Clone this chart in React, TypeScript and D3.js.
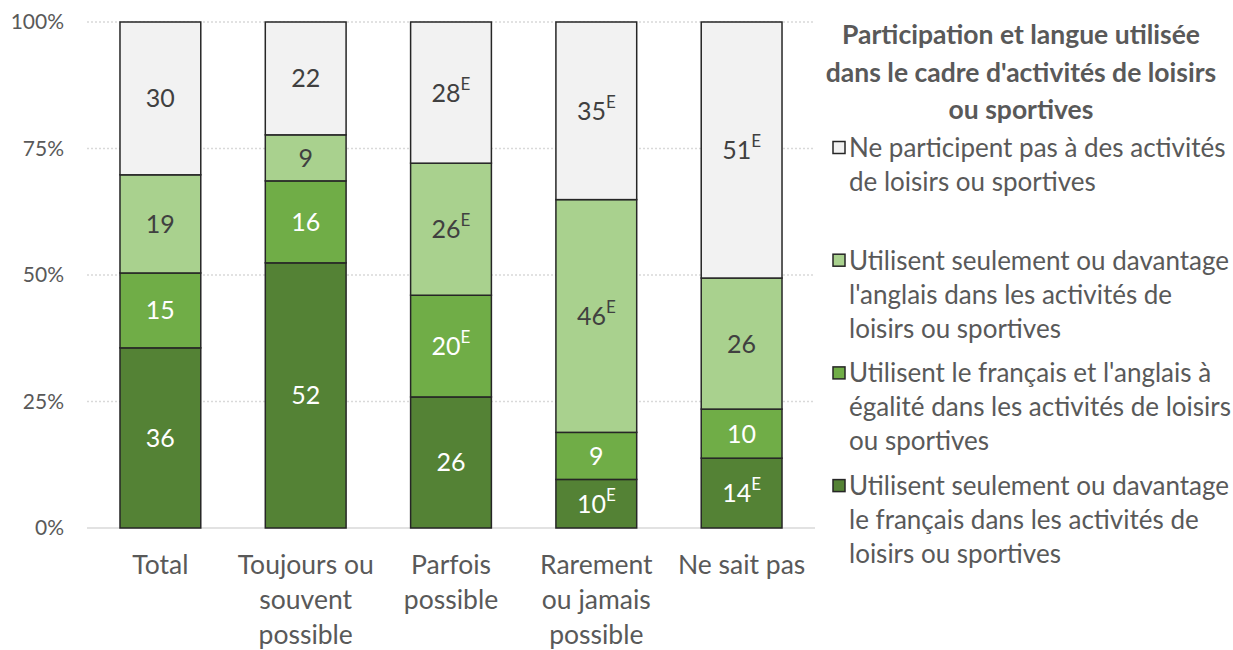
import React from "react";
import * as d3 from "d3";

const categories = ["Total", "Toujours ou souvent possible", "Parfois possible", "Rarement ou jamais possible", "Ne sait pas"];
const categoryLines = [["Total"], ["Toujours ou", "souvent", "possible"], ["Parfois", "possible"], ["Rarement", "ou jamais", "possible"], ["Ne sait pas"]];

const frValues = [35.6, 52.4, 25.9, 9.6, 13.8];
const bothValues = [14.8, 16.2, 20.1, 9.3, 9.7];
const enValues = [19.4, 9.1, 26.1, 46.0, 25.9];
const noneValues = [30.2, 22.3, 27.9, 35.1, 50.6];

const frE = [false, false, false, true, true];
const bothE = [false, false, true, false, false];
const enE = [false, false, true, true, false];
const noneE = [false, false, true, true, true];

const seriesKeys = ["fr", "both", "en", "none"];
const seriesColors = ["#548235", "#70AD47", "#A9D18E", "#F2F2F2"];
const labelColors = ["#FFFFFF", "#FFFFFF", "#404040", "#404040"];

const yTicks = [0, 0.25, 0.5, 0.75, 1];

const legendTitle = ["Participation et langue utilisée", "dans le cadre d'activités de loisirs", "ou sportives"];
const legendOrder = ["none", "en", "both", "fr"];
const legendLines: Record<string, string[]> = {
  none: ["Ne participent pas à des activités", "de loisirs ou sportives"],
  en: ["Utilisent seulement ou davantage", "l'anglais dans les activités de", "loisirs ou sportives"],
  both: ["Utilisent le français et l'anglais à", "égalité dans les activités de loisirs", "ou sportives"],
  fr: ["Utilisent seulement ou davantage", "le français dans les activités de", "loisirs ou sportives"],
};

const FONT = "Lato, 'Open Sans', sans-serif";

export default function App() {
  const W = 1233, H = 650;
  const left = 87, right = 815, top = 22, bottom = 528;

  const rows = categories.map((c, i) => ({
    cat: c,
    fr: frValues[i] / 100,
    both: bothValues[i] / 100,
    en: enValues[i] / 100,
    none: noneValues[i] / 100,
  }));
  const flags: Record<string, boolean[]> = { fr: frE, both: bothE, en: enE, none: noneE };
  const raw: Record<string, number[]> = { fr: frValues, both: bothValues, en: enValues, none: noneValues };

  const x = d3.scaleBand<string>().domain(categories).range([left, right]).paddingInner(0.444).paddingOuter(0.227);
  const y = d3.scaleLinear().domain([0, 1]).range([bottom, top]);
  const stack = d3.stack<any>().keys(seriesKeys);
  const stacked = stack(rows as any);

  const textColor = "#595959";

  return (
    <svg width={W} height={H} style={{ position: "absolute", left: 0, top: 0 }} fontFamily={FONT}>
      {yTicks.map((t) =>
        t > 0 ? (
          <line key={"g" + t} x1={left} x2={right} y1={y(t)} y2={y(t)} stroke="#D9D9D9" strokeWidth={1.5} strokeDasharray="2,2" />
        ) : null
      )}
      <line x1={left} x2={right} y1={y(0)} y2={y(0)} stroke="#D9D9D9" strokeWidth={1.5} />
      {yTicks.map((t) => (
        <text key={"t" + t} x={64} y={y(t)} dy="0.35em" textAnchor="end" fontSize={21} fill={textColor}>
          {d3.format(".0%")(t)}
        </text>
      ))}
      {stacked.map((s, si) => (
        <g key={s.key}>
          {s.map((d, i) => {
            const x0 = x(categories[i])!;
            const bw = x.bandwidth();
            const y0 = y(d[1]);
            const y1 = y(d[0]);
            const v = Math.round(raw[s.key][i]);
            const cy = (y0 + y1) / 2;
            return (
              <g key={i}>
                <rect x={x0} y={y0} width={bw} height={y1 - y0} fill={seriesColors[si]} stroke="#262626" strokeWidth={1.5} />
                <text x={x0 + bw / 2} y={cy} dy="0.36em" textAnchor="middle" fontSize={25} fill={labelColors[si]}>
                  {v}
                  {flags[s.key][i] ? (
                    <tspan fontSize={17} dy="-0.7em">E</tspan>
                  ) : null}
                </text>
              </g>
            );
          })}
        </g>
      ))}
      {categoryLines.map((lines, i) => (
        <text key={"c" + i} textAnchor="middle" fontSize={26.5} fill={textColor}>
          {lines.map((l, li) => (
            <tspan key={li} x={x(categories[i])! + x.bandwidth() / 2} y={574 + li * 35}>
              {l}
            </tspan>
          ))}
        </text>
      ))}
      <text textAnchor="middle" fontSize={26.5} fontWeight="bold" fill={textColor}>
        {legendTitle.map((l, li) => (
          <tspan key={li} x={1021} y={44 + li * 37.5}>
            {l}
          </tspan>
        ))}
      </text>
      {legendOrder.map((k, ki) => {
        const si = seriesKeys.indexOf(k);
        const y0 = 148 + ki * 112.7;
        return (
          <g key={k}>
            <rect x={833} y={y0 - 6.5} width={12} height={12} fill={seriesColors[si]} stroke="#262626" strokeWidth={1.5} />
            <text fontSize={26} fill={textColor}>
              {legendLines[k].map((l, li) => (
                <tspan key={li} x={849} y={y0 + 9 + li * 34}>
                  {l}
                </tspan>
              ))}
            </text>
          </g>
        );
      })}
    </svg>
  );
}
